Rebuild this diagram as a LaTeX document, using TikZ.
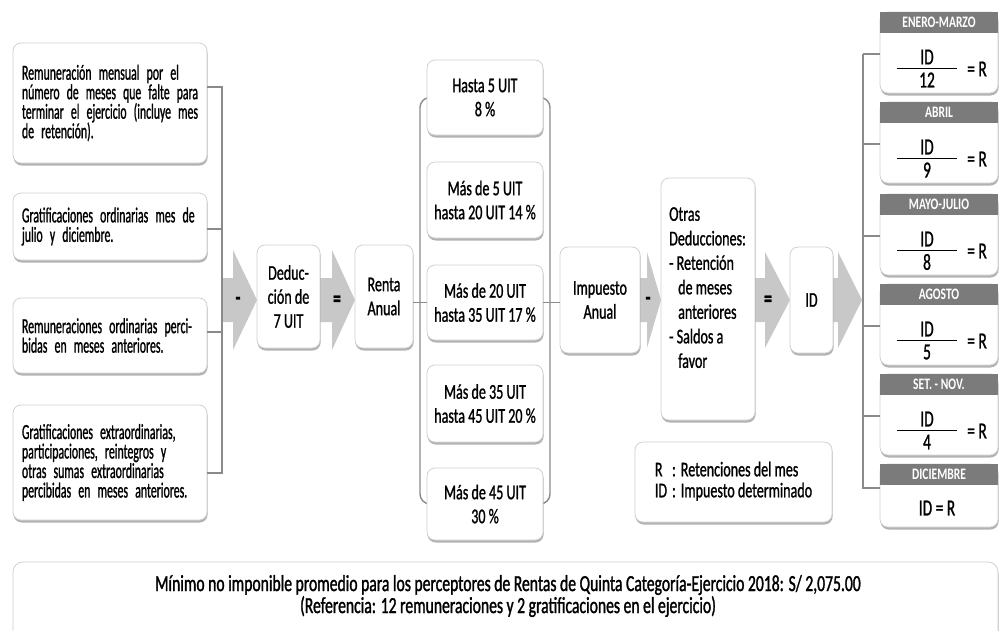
\documentclass[tikz,border=0pt]{standalone}
\usepackage{fontspec}
\usepackage{graphicx}
\setmainfont{Carlito}[FakeStretch=0.67, FakeBold=1.0]
\newfontfamily\leftfont{Carlito}[FakeStretch=0.55, FakeBold=1.0, WordSpace=0.8]
\newfontfamily\botfont{Carlito}[FakeStretch=0.68, FakeBold=1.3]
\newfontfamily\hdrfont{Carlito}[FakeStretch=0.72]
\usetikzlibrary{shadows,calc}
\definecolor{arrgray}{HTML}{C8C8C8}
\definecolor{lngray}{HTML}{8A8A8A}
\definecolor{bdgray}{HTML}{D0D0D0}
\definecolor{hdgray}{HTML}{7B7B7B}
\newsavebox{\fitbox}
\newcommand{\jline}[1]{\sbox{\fitbox}{#1}\ifdim\wd\fitbox>176pt\relax\resizebox{176pt}{\height}{\usebox{\fitbox}}\else\makebox[176pt][s]{#1}\fi}
\tikzset{
  box/.style={draw=bdgray, line width=0.8pt, fill=white, rounded corners=8pt,
    drop shadow={shadow xshift=0.6pt, shadow yshift=-2.5pt, fill=black!55, opacity=0.55},
    inner sep=0pt, font=\fontsize{21}{24}\selectfont, align=center},
  lbox/.style={box, minimum width=194pt, text width=176pt, align=left, font=\leftfont\fontsize{21.5}{19.5}\selectfont},
  mbox/.style={box, minimum width=116pt},
  rbody/.style={box, minimum width=118pt},
  hdr/.style={fill=hdgray, text=white, minimum width=118pt, minimum height=21pt, inner sep=0pt,
    font=\hdrfont\fontsize{16}{16}\selectfont\bfseries},
  conn/.style={draw=lngray, line width=1.4pt},
  chev/.style={fill=arrgray},
  op/.style={font=\fontsize{24}{24}\selectfont\bfseries, inner sep=0pt},
  frtxt/.style={font=\fontsize{23}{23}\selectfont, inner sep=0pt},
  fbar/.style={line width=1.6pt, draw=black},
}
\newcommand{\chevron}[6]{% x1, xh, xt, yc, h, s
  \fill[chev] (#1,#4-#6) -- (#2,#4-#6) -- (#2,#4-#5) -- (#3,#4) -- (#2,#4+#5) -- (#2,#4+#6) -- (#1,#4+#6) -- cycle;}
\begin{document}
\begin{tikzpicture}[x=1pt,y=-1pt]
\useasboundingbox (0,0) rectangle (1000,630);

% ---------- bus coordinates
\coordinate (busL) at (222,0);
\coordinate (brL) at (420,0);
\coordinate (brR) at (550,0);
\coordinate (busR) at (863,0);
\coordinate (c1) at (0,87);
\coordinate (c2) at (0,229);
\coordinate (c3) at (0,332);
\coordinate (c4) at (0,473);

% ---------- arrows (chevrons)
\chevron{222}{233}{257}{300}{50}{22}
\chevron{320}{332}{355}{300}{50}{22}
\chevron{640}{647}{661}{300}{48}{22}
\chevron{755}{765}{790}{300}{48}{22}
\chevron{833}{838}{862}{300}{48}{22}

% ---------- left boxes
\node[lbox, minimum height=120pt] (l1) at (110,103) {%
\jline{Remuneración mensual por el}\\
\jline{número de meses que falte para}\\
\jline{terminar el ejercicio (incluye mes}\\
de retención).};
\node[lbox, minimum height=67pt] (l2) at (110,226.5) {%
\jline{Gratificaciones ordinarias mes de}\\
julio y diciembre.};
\node[lbox, minimum height=75pt] (l3) at (110,335.5) {%
\jline{Remuneraciones ordinarias perci-}\\
bidas en meses anteriores.};
\node[lbox, minimum height=115pt] (l4) at (110,462.5) {%
\jline{Gratificaciones extraordinarias,}\\
\jline{participaciones, reintegros y}\\
\jline{otras sumas extraordinarias}\\
\jline{percibidas en meses anteriores.}};

% left bus
\draw[conn] (l1.east |- c1) -- (busL |- c1) -- (busL |- c4) -- (l4.east |- c4);
\draw[conn] (l2.east |- c2) -- (busL |- c2);
\draw[conn] (l3.east |- c3) -- (busL |- c3);

% ---------- deduction and renta
\node[box, minimum width=63pt, minimum height=103pt] (ded) at (288.5,296.5) {Deduc-\\ción de\\7 UIT};
\node[box, minimum width=58pt, minimum height=103pt] (ren) at (384,296.5) {Renta\\Anual};

% ---------- middle column
\coordinate (m1c) at (485,97.5);
\coordinate (m5c) at (485,504);
\draw[conn, rounded corners=10pt] (m1c) -- (brL |- m1c) -- (brL |- m5c) -- (m5c);
\draw[conn, rounded corners=10pt] (m1c) -- (brR |- m1c) -- (brR |- m5c) -- (m5c);
\node[mbox, minimum height=75pt] (m1) at (485,97.5) {Hasta 5 UIT\\8 \%};
\node[mbox, minimum height=76pt] (m2) at (485,200) {Más de 5 UIT\\hasta 20 UIT 14 \%};
\node[mbox, minimum height=75pt] (m3) at (485,302.5) {Más de 20 UIT\\hasta 35 UIT 17 \%};
\node[mbox, minimum height=77pt] (m4) at (485,403.5) {Más de 35 UIT\\hasta 45 UIT 20 \%};
\node[mbox, minimum height=72pt] (m5) at (485,504) {Más de 45 UIT\\30 \%};
\draw[conn] (ren.east |- m3.west) -- (m3.west);

% ---------- impuesto, otras, ID
\node[box, minimum width=80pt, minimum height=106pt] (imp) at (600,300) {Impuesto\\Anual};
\draw[conn] (m3.east) -- (imp.west |- m3.east);
\node[box, minimum width=94pt, minimum height=242pt] (otr) at (708,299) {};
\node[anchor=north west, inner sep=0pt, align=left, font=\fontsize{21}{24.5}\selectfont] (otxt) at (669,207) {%
Otras\\Deducciones:\\- Retención\\\hspace*{9pt}de meses\\\hspace*{9pt}anteriores\\- Saldos a\\\hspace*{9pt}favor};
\node[box, minimum width=43pt, minimum height=106pt] (idb) at (811.5,300) {ID};

% operator labels
\node[op] (op1) at (238,301) {-};
\node[op] (op2) at (337,301) {=};
\node[op] (op3) at (648,301) {-};
\node[op] (op4) at (768,301) {=};

% ---------- legend
\node[box, minimum width=197pt, minimum height=80pt, align=left] (leg) at (733.5,482) {%
\begin{tabular}{@{}l@{\hspace{5pt}:\hspace{5pt}}l@{}}
R & Retenciones del mes\\[-3pt]
ID & Impuesto determinado
\end{tabular}};

% ---------- right column
\foreach \T/\lab/\den/\nm in {12/ENERO-MARZO/12/r1, 102/ABRIL/9/r2, 194/MAYO-JULIO/8/r3, 284/AGOSTO/5/r4, 374/SET. - NOV./4/r5}{
  \node[rbody, minimum height=81pt] (\nm b) at (939,\T+40.5) {};
  \node[hdr] (\nm h) at (939,\T+10.5) {\lab};
  \node[frtxt] (\nm n) at (927,\T+45) {ID};
  \node[frtxt] (\nm d) at (927,\T+68) {\den};
  \node[frtxt] (\nm e) at (977,\T+57) {= R};
  \draw[fbar] (897,\T+56.5) -- (957,\T+56.5);
  \coordinate (\nm c) at (0,\T+42);
  \draw[conn] (busR |- \nm c) -- (\nm b.west |- \nm c);
}
\node[rbody, minimum height=63pt] (r6b) at (939,495.5) {};
\node[hdr] (r6h) at (939,474.5) {DICIEMBRE};
\node[frtxt] (r6e) at (937,508) {ID = R};
\coordinate (r6c) at (0,488);
\draw[conn] (busR |- r1c) -- (busR |- r6c) -- (r6b.west |- r6c);

% ---------- bottom note
\node[box, minimum width=985pt, minimum height=95pt, rounded corners=10pt] (note) at (505.5,609.5) {};
\node[inner sep=0pt, align=center, font=\botfont\fontsize{23}{22}\selectfont] (notetxt) at (508,596) {%
Mínimo no imponible promedio para los perceptores de Rentas de Quinta Categoría-Ejercicio 2018: S/ 2,075.00\\
(Referencia: 12 remuneraciones y 2 gratificaciones en el ejercicio)};
\end{tikzpicture}
\end{document}
